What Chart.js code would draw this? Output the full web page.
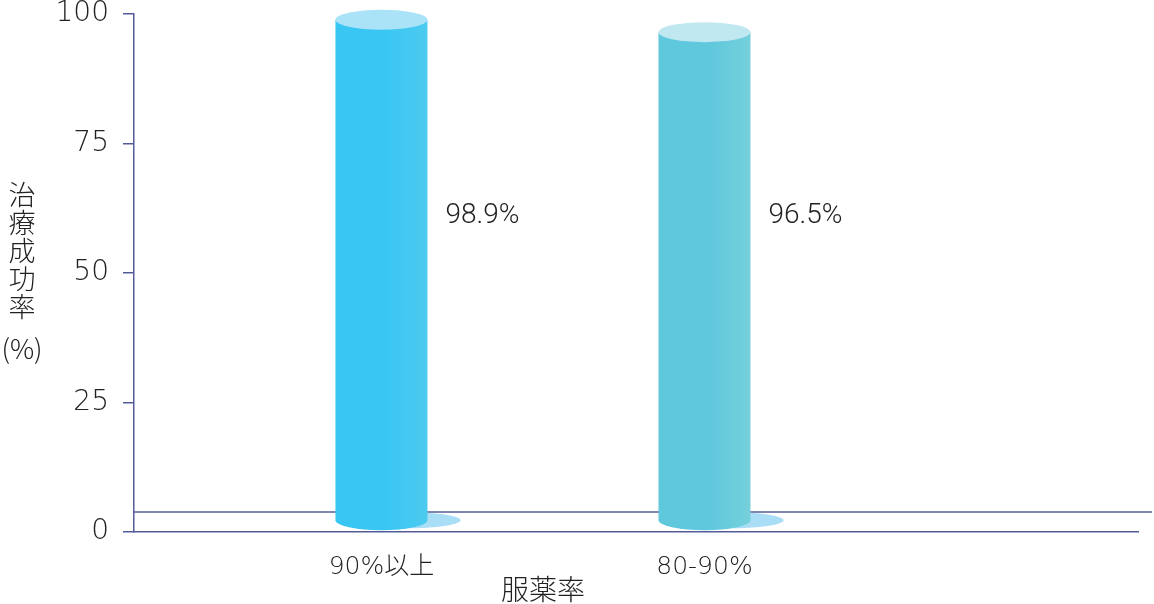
<!DOCTYPE html>
<html>
<head>
<meta charset="utf-8">
<script src="https://cdn.jsdelivr.net/npm/chart.js@4"></script>
<style>
  html, body { margin: 0; padding: 0; background: #fff; }
  #wrap { width: 1154px; height: 604px; }
</style>
</head>
<body>
<div id="wrap"><canvas id="chart"></canvas></div>
<script>
// data
var categories = ['90%以上', '80-90%'];
var successRates = [98.9, 96.5];
var rateLabels = ['98.9%', '96.5%'];
var yTicks = [0, 25, 50, 75, 100];
var yTitleLines = ['治', '療', '成', '功', '率', '(%)'];
var xTitle = '服薬率';

// look
var axisColor = '#535c98';
var textColor = '#222';
var tickFamily = "'DejaVu Sans', 'Noto Sans CJK JP', sans-serif";
var cjkFamily = "'Noto Sans CJK JP', 'Noto Sans', sans-serif";
var labelFamily = "Roboto, 'Liberation Sans', sans-serif";
var barLooks = [
  { left: '#3ac6f3', right: '#4ccbef', top: '#aae2f7' },
  { left: '#5fc8dd', right: '#75d0da', top: '#c0e8f1' }
];
var shadowColor = '#a9def6';
var ellipseRy = 10;
var labelLevel = 61;

var cylinders = {
  id: 'cylinders',
  beforeDatasetsDraw: function (chart) {
    var ctx = chart.ctx, area = chart.chartArea;
    // back edge of the floor
    ctx.save();
    ctx.strokeStyle = axisColor;
    ctx.lineWidth = 1.5;
    ctx.beginPath();
    ctx.moveTo(area.left, area.bottom - 20);
    ctx.lineTo(area.right + 14, area.bottom - 20);
    ctx.stroke();
    // shadows
    chart.getDatasetMeta(0).data.forEach(function (el) {
      var p = el.getProps(['x', 'base', 'width'], true);
      ctx.fillStyle = shadowColor;
      ctx.beginPath();
      ctx.ellipse(p.x + 24, p.base - 11, p.width * 0.6, 8, 0, 0, Math.PI * 2);
      ctx.fill();
    });
    ctx.restore();
  },
  afterDatasetsDraw: function (chart) {
    var ctx = chart.ctx;
    ctx.save();
    chart.getDatasetMeta(0).data.forEach(function (el, i) {
      var p = el.getProps(['x', 'y', 'base', 'width'], true);
      var look = barLooks[i];
      var l = p.x - p.width / 2, r = p.x + p.width / 2;
      var bottom = p.base - 11;
      var g = ctx.createLinearGradient(l, 0, r, 0);
      g.addColorStop(0, look.left);
      g.addColorStop(0.55, look.left);
      g.addColorStop(1, look.right);
      ctx.fillStyle = g;
      ctx.beginPath();
      ctx.moveTo(l, p.y);
      ctx.lineTo(l, bottom);
      ctx.ellipse(p.x, bottom, p.width / 2, ellipseRy, 0, Math.PI, 0, true);
      ctx.lineTo(r, p.y);
      ctx.closePath();
      ctx.fill();
      ctx.fillStyle = look.top;
      ctx.beginPath();
      ctx.ellipse(p.x, p.y, p.width / 2, ellipseRy, 0, 0, Math.PI * 2);
      ctx.fill();
      // value label
      ctx.fillStyle = textColor;
      ctx.font = '300 28px ' + labelFamily;
      ctx.textAlign = 'left';
      ctx.textBaseline = 'middle';
      ctx.fillText(rateLabels[i], r + 18, chart.scales.y.getPixelForValue(labelLevel));
    });
    ctx.restore();
  },
  afterDraw: function (chart) {
    var ctx = chart.ctx;
    ctx.save();
    ctx.fillStyle = textColor;
    ctx.textAlign = 'center';
    ctx.textBaseline = 'middle';
    ctx.font = '300 27px ' + cjkFamily;
    yTitleLines.forEach(function (t, i) {
      var y = 195 + i * 28 + (i === yTitleLines.length - 1 ? 14 : 0);
      ctx.fillText(t, 22, y);
    });
    ctx.font = '300 28px ' + cjkFamily;
    ctx.fillText(xTitle, chart.scales.x.getPixelForValue(1.5), 589);
    ctx.restore();
  }
};

new Chart(document.getElementById('chart'), {
  type: 'bar',
  data: {
    datasets: [{
      data: categories.map(function (c, i) { return { x: i + 1, y: successRates[i] }; }),
      backgroundColor: 'rgba(0,0,0,0)',
      borderWidth: 0,
      barThickness: 92
    }]
  },
  options: {
    responsive: true,
    maintainAspectRatio: false,
    animation: false,
    layout: { padding: { top: 14, right: 16, left: 0, bottom: 0 } },
    plugins: { legend: { display: false }, tooltip: { enabled: false } },
    scales: {
      x: {
        type: 'linear',
        offset: false,
        min: 0.234,
        max: 3.342,
        afterBuildTicks: function (s) {
          s.ticks = categories.map(function (c, i) { return { value: i + 1 }; });
        },
        afterFit: function (s) { s.height = 72; s.paddingLeft = 0; s.paddingRight = 0; },
        grid: { display: false, drawTicks: false, offset: false },
        border: { display: true, color: axisColor, width: 1.5 },
        ticks: {
          padding: 20,
          color: textColor,
          font: { family: tickFamily, size: 25, weight: '200' },
          callback: function (v) { return categories[v - 1] || ''; },
          maxRotation: 0
        }
      },
      y: {
        min: 0,
        max: 100,
        afterBuildTicks: function (s) {
          s.ticks = yTicks.map(function (v) { return { value: v }; });
        },
        afterFit: function (s) { s.width = 134; s.paddingTop = 0; s.paddingBottom = 0; },
        grid: { drawOnChartArea: false, drawTicks: true, tickLength: 11, color: axisColor, lineWidth: 1.5 },
        border: { display: true, color: axisColor, width: 1.5 },
        ticks: {
          padding: 14,
          color: textColor,
          font: { family: tickFamily, size: 28, weight: '200' }
        }
      }
    }
  },
  plugins: [cylinders]
});
</script>
</body>
</html>
